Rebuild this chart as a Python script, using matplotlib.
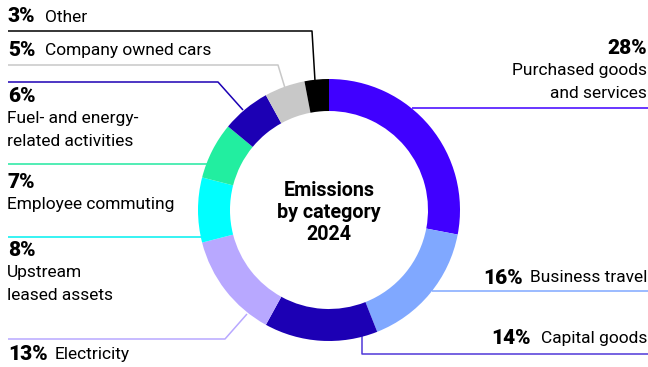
import matplotlib
matplotlib.use("Agg")
import matplotlib.pyplot as plt

# emissions share per category, clockwise from the top
categories = ["Purchased goods\nand services", "Business travel", "Capital goods",
              "Electricity", "Upstream\nleased assets", "Employee commuting",
              "Fuel- and energy-\nrelated activities", "Company owned cars", "Other"]
shares = [28, 16, 14, 13, 8, 7, 6, 5, 3]
colors = ["#4000FF", "#80A8FF", "#1C00B4", "#B8A8FF", "#00FFFF",
          "#22EEA0", "#1C00B4", "#C8C8C8", "#000000"]
line_colors = ["#4000FF", "#80A8FF", "#5038D8", "#B8A8FF", "#00F0F0",
               "#22E8A0", "#1C00B4", "#C8C8C8", "#000000"]

plt.rcParams["font.family"] = ["Roboto", "DejaVu Sans"]

W, H = 648, 367
fig = plt.figure(figsize=(W / 100, H / 100), dpi=100)
ax = fig.add_axes([0, 0, 1, 1])

cx, cy, r = 329, 210, 131
ax.pie(shares, colors=colors, startangle=-90, counterclock=True,
       center=(cx, cy), radius=r, wedgeprops=dict(width=32, linewidth=0))
ax.set_xlim(0, W)
ax.set_ylim(H, 0)
ax.set_aspect("equal")
ax.axis("off")

# leader line paths (pixel coords, y down)
paths = {
    0: ([412, 648], [108, 108]),
    1: ([432, 648], [291, 291]),
    2: ([362, 362, 648], [336, 354, 354]),
    3: ([247, 225, 8], [314, 339, 339]),
    4: ([202, 8], [237, 237]),
    5: ([207, 8], [164, 164]),
    6: ([243, 218, 8], [110, 82, 82]),
    7: ([285, 278, 8], [88, 65, 65]),
    8: ([315, 312, 8], [81, 31, 31]),
}
for i, (xs, ys) in paths.items():
    ax.plot(xs, ys, color=line_colors[i], lw=1.1, zorder=0.5, solid_capstyle="butt")

fs = 12.5
fsb = 15
bw = "heavy"

# left labels: percent in bold, name beside or below
def left(pct, name, y, inline_x=None):
    ax.text(8, y, f"{pct}%", fontsize=fsb, fontweight=bw, va="center", ha="left")
    if inline_x is not None:
        ax.text(inline_x, y, name, fontsize=fs, va="center", ha="left")
    else:
        for k, ln in enumerate(name.split("\n")):
            ax.text(7, y + 22 * (k + 1), ln, fontsize=fs, va="center", ha="left")

left(shares[8], categories[8], 17, inline_x=45)
left(shares[7], categories[7], 51, inline_x=45)
left(shares[6], categories[6], 97)
left(shares[5], categories[5], 183)
left(shares[4], categories[4], 251)
left(shares[3], categories[3], 355, inline_x=55)

# right labels
ax.text(647, 48, f"{shares[0]}%", fontsize=fsb, fontweight=bw, va="center", ha="right")
for k, ln in enumerate(categories[0].split("\n")):
    ax.text(647, 71 + 22 * k, ln, fontsize=fs, va="center", ha="right")
ax.text(647, 278, categories[1], fontsize=fs, va="center", ha="right")
ax.text(523, 278, f"{shares[1]}%", fontsize=fsb, fontweight=bw, va="center", ha="right")
ax.text(647, 339, categories[2], fontsize=fs, va="center", ha="right")
ax.text(531, 339, f"{shares[2]}%", fontsize=fsb, fontweight=bw, va="center", ha="right")

# centre title
ax.text(cx, 212, "Emissions\nby category\n2024", fontsize=14.2, fontweight="bold",
        ha="center", va="center", linespacing=1.2)

fig.savefig("out.png", dpi=100)
